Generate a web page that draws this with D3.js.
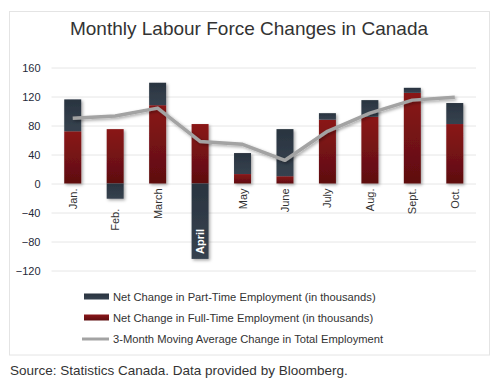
<!DOCTYPE html>
<html><head><meta charset="utf-8">
<script src="https://cdn.jsdelivr.net/npm/d3@7"></script>
<style>body{margin:0;background:#fff;}svg{display:block;font-family:"Liberation Sans",Arial,sans-serif;}</style>
</head><body>
<svg id="c" width="500" height="390"></svg>
<script>
const months = ["Jan.","Feb.","March","April","May","June","July","Aug.","Sept.","Oct."];
const fullTime = [72, 75, 108, 82, 13, 10, 88, 92, 125, 82];
const partTime = [44, -21, 31, -104, 29, 65, 9, 23, 7, 29];
const movingAvg = [90, 93, 104, 58, 54, 32, 72, 97, 115, 119];
const yTicks = [-120, -80, -40, 0, 40, 80, 120, 160];
const legendLabels = ["Net Change in Part-Time Employment (in thousands)","Net Change in Full-Time Employment (in thousands)","3-Month Moving Average Change in Total Employment"];

const svg = d3.select("#c");
const defs = svg.append("defs");
const gr = defs.append("linearGradient").attr("id","gRed").attr("x1",0).attr("y1",0).attr("x2",0).attr("y2",1);
gr.append("stop").attr("offset","0%").attr("stop-color","#8a1619");
gr.append("stop").attr("offset","100%").attr("stop-color","#5e0e10");
const gd = defs.append("linearGradient").attr("id","gDark").attr("x1",0).attr("y1",0).attr("x2",0).attr("y2",1);
gd.append("stop").attr("offset","0%").attr("stop-color","#2a3440");
gd.append("stop").attr("offset","100%").attr("stop-color","#36424f");
const f = defs.append("filter").attr("id","sh").attr("x","-30%").attr("y","-30%").attr("width","160%").attr("height","160%");
f.append("feDropShadow").attr("dx",1.5).attr("dy",1.5).attr("stdDeviation",1.5).attr("flood-color","#000").attr("flood-opacity",0.35);

svg.append("rect").attr("x",9.5).attr("y",11.5).attr("width",480).attr("height",343.5)
  .attr("fill","#fff").attr("stroke","#e4e4e4").attr("stroke-width",1);

svg.append("text").attr("x",249).attr("y",35).attr("text-anchor","middle")
  .attr("font-size",19).attr("fill","#333").text("Monthly Labour Force Changes in Canada");

const x = d3.scaleBand().domain(months).range([51.5,476]).paddingInner(0.6).paddingOuter(0.3);
const y = d3.scaleLinear().domain([-120,160]).range([270.5,67.5]);

const yAxis = svg.append("g").attr("transform","translate(51.5,0)")
  .call(d3.axisLeft(y).tickValues(yTicks).tickSize(-424.5).tickFormat(d3.format("d")));
yAxis.select(".domain").remove();
yAxis.selectAll(".tick line").attr("stroke","#e6e6e6");
yAxis.selectAll(".tick text").attr("x",-11).attr("font-size",11).attr("fill","#1f2a3a").attr("font-family","Liberation Sans, Arial, sans-serif");

const bars = svg.append("g").attr("filter","url(#sh)");
months.forEach((m,i)=>{
  const ft = fullTime[i], pt = partTime[i];
  bars.append("rect").attr("x",x(m)).attr("width",x.bandwidth())
    .attr("y",y(ft)).attr("height",y(0)-y(ft)).attr("fill","url(#gRed)");
  if (pt>=0){
    bars.append("rect").attr("x",x(m)).attr("width",x.bandwidth())
      .attr("y",y(ft+pt)).attr("height",y(ft)-y(ft+pt)).attr("fill","url(#gDark)");
  } else {
    bars.append("rect").attr("x",x(m)).attr("width",x.bandwidth())
      .attr("y",y(0)).attr("height",y(pt)-y(0)).attr("fill","url(#gDark)");
  }
});

const line = d3.line().x((d,i)=>x(months[i])+x.bandwidth()/2).y(d=>y(d));
svg.append("path").datum(movingAvg).attr("d",line).attr("fill","none")
  .attr("stroke","#a3a3a3").attr("stroke-width",3.5).attr("stroke-linejoin","round").attr("filter","url(#sh)");

months.forEach((m,i)=>{
  const cx = x(m)+x.bandwidth()/2;
  const pt = partTime[i];
  if (m==="April"){
    const yy = y(pt)-5;
    svg.append("text").attr("transform",`translate(${cx+4},${yy}) rotate(-90)`)
      .attr("text-anchor","start").attr("font-size",11).attr("font-weight","bold").attr("fill","#fff").text(m);
  } else {
    const base = pt<0 ? y(pt)+10 : y(0)+5;
    svg.append("text").attr("transform",`translate(${cx+4},${base}) rotate(-90)`)
      .attr("text-anchor","end").attr("font-size",11).attr("fill","#333").text(m);
  }
});

const lg = svg.append("g");
const ly = [296.5, 317.5, 339];
lg.append("rect").attr("x",84).attr("y",ly[0]-3).attr("width",25).attr("height",6).attr("fill","url(#gDark)");
lg.append("rect").attr("x",84).attr("y",ly[1]-3).attr("width",25).attr("height",6).attr("fill","url(#gRed)");
lg.append("line").attr("x1",82).attr("x2",109).attr("y1",ly[2]).attr("y2",ly[2]).attr("stroke","#a3a3a3").attr("stroke-width",3);
legendLabels.forEach((t,i)=>{
  lg.append("text").attr("x",113).attr("y",ly[i]+4).attr("font-size",11.2).attr("fill","#333").text(t);
});

svg.append("text").attr("x",10).attr("y",375).attr("font-size",13.5).attr("fill","#333")
  .text("Source: Statistics Canada. Data provided by Bloomberg.");
</script>
</body></html>
